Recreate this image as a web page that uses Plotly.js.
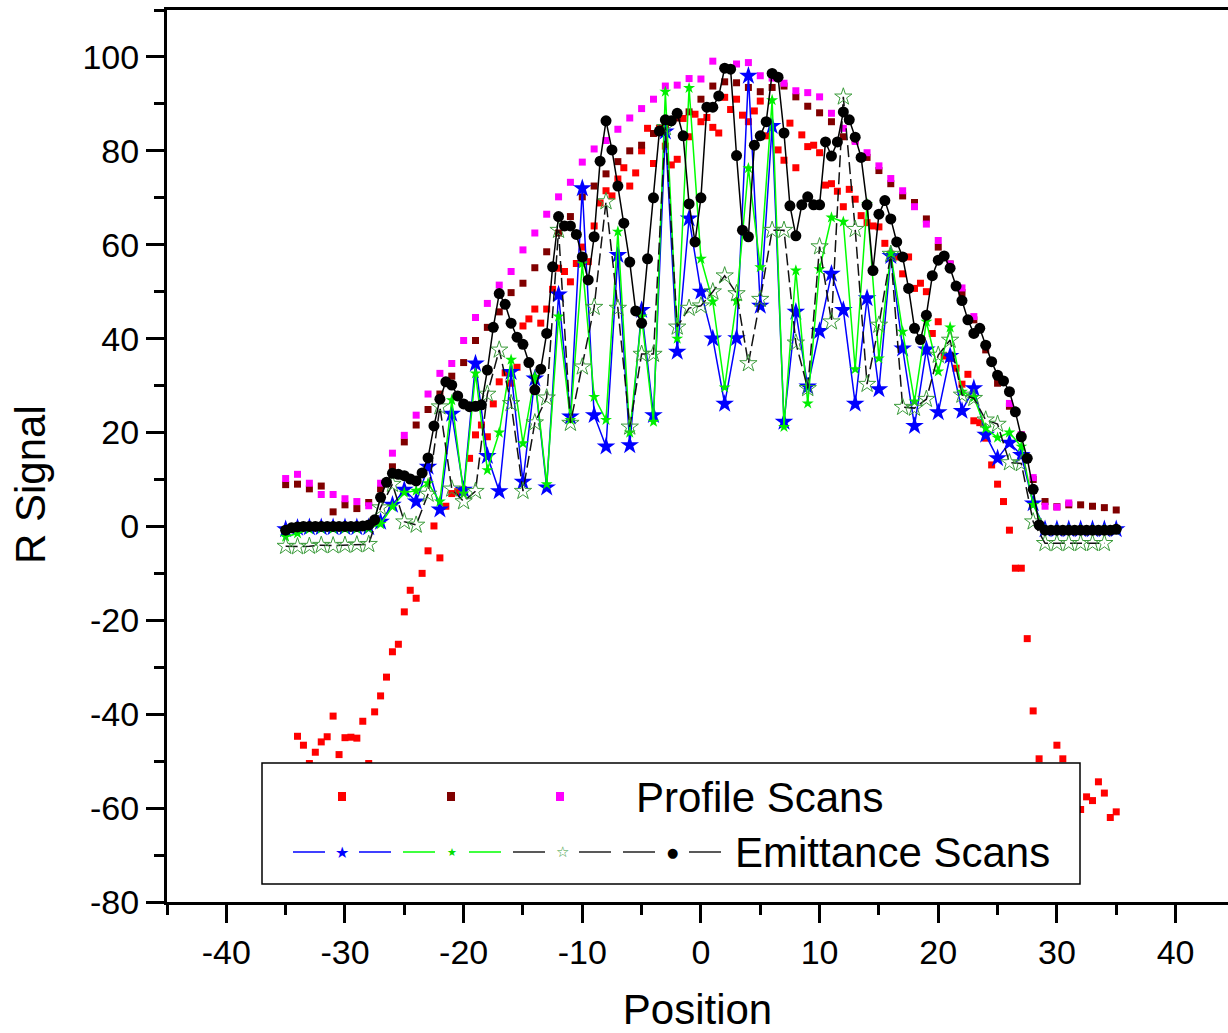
<!DOCTYPE html>
<html>
<head>
<meta charset="utf-8">
<script src="https://cdn.plot.ly/plotly-3.0.1.min.js"></script>
<style>html,body{margin:0;padding:0;background:#fff;}#chart{width:1228px;height:1033px;}</style>
</head>
<body>
<div id="chart"></div>
<script>
// ---------- DATA ----------
const xInt = [-35,-34,-33,-32,-31,-30,-29,-28,-27,-26,-25,-24,-23,-22,-21,-20,-19,-18,-17,-16,-15,-14,-13,-12,-11,-10,-9,-8,-7,-6,-5,-4,-3,-2,-1,0,1,2,3,4,5,6,7,8,9,10,11,12,13,14,15,16,17,18,19,20,21,22,23,24,25,26,27,28,29,30,31,32,33,34,35];

const xHalf = [-35,-34.5,-34,-33.5,-33,-32.5,-32,-31.5,-31,-30.5,-30,-29.5,-29,-28.5,-28,-27.5,-27,-26.5,-26,-25.5,-25,-24.5,-24,-23.5,-23,-22.5,-22,-21.5,-21,-20.5,-20,-19.5,-19,-18.5,-18,-17.5,-17,-16.5,-16,-15.5,-15,-14.5,-14,-13.5,-13,-12.5,-12,-11.5,-11,-10.5,-10,-9.5,-9,-8.5,-8,-7.5,-7,-6.5,-6,-5.5,-5,-4.5,-4,-3.5,-3,-2.5,-2,-1.5,-1,-0.5,0,0.5,1,1.5,2,2.5,3,3.5,4,4.5,5,5.5,6,6.5,7,7.5,8,8.5,9,9.5,10,10.5,11,11.5,12,12.5,13,13.5,14,14.5,15,15.5,16,16.5,17,17.5,18,18.5,19,19.5,20,20.5,21,21.5,22,22.5,23,23.5,24,24.5,25,25.5,26,26.5,27,27.5,28,28.5,29,29.5,30,30.5,31,31.5,32,32.5,33,33.5,34,34.5,35];

// Profile scan 1 (red squares)
const redX = [-34,-33.5,-33,-32.5,-32,-31.5,-31,-30.5,-30,-29.5,-29,-28.5,-28,-27.5,-27,-26.5,-26,-25.5,-25,-24.5,-24,-23.5,-23,-22.5,-22,-21.5,-21,-20.5,-20,-19.5,-19,-18.5,-18,-17.5,-17,-16.5,-16,-15.5,-15,-14.5,-14,-13.5,-13,-12.5,-12,-11.5,-11,-10.5,-10,-9.5,-9,-8.5,-8,-7.5,-7,-6.5,-6,-5.5,-5,-4.5,-4,-3.5,-3,-2.5,-2,-1.5,-1,-0.5,0,0.5,1,1.5,2,2.5,3,3.5,4,4.5,5,5.5,6,6.5,7,7.5,8,8.5,9,9.5,10,10.5,11,11.5,12,12.5,13,13.5,14,14.5,15,15.5,16,16.5,17,17.5,18,18.5,19,19.5,20,20.5,21,21.5,22,22.5,23,23.5,24,24.5,25,25.5,26,26.5,27,27.5,28,28.5,30,30.5,32,32.5,33,33.5,34,34.5,35];
const redY = [-44.7,-46.6,-50.5,-48.1,-45.9,-44.8,-40.4,-48.6,-45.0,-44.9,-45.1,-41.5,-50.5,-39.5,-36.1,-32.1,-26.7,-25.1,-18.2,-13.6,-15.3,-10.0,-5.2,0.1,-6.7,4.3,7.0,7.4,7.8,14.5,19.5,21.6,19.1,26.1,30.8,32.7,30.5,33.9,42.7,44.2,46.3,43.3,46.3,50.5,55.0,54.3,52.1,56.0,59.5,56.4,64.0,68.9,71.5,70.4,74.0,76.4,72.5,75.3,80.0,84.8,77.3,84.8,81.0,77.0,78.2,86.9,83.0,87.8,86.2,87.1,85.0,83.8,91.4,88.8,91.0,87.6,86.2,88.5,90.6,83.2,85.0,80.2,78.0,85.9,76.4,83.4,80.9,81.2,79.6,72.7,73.0,71.4,68.1,71.8,69.7,66.2,64.7,64.0,63.8,60.3,58.0,57.4,53.8,57.4,50.7,51.8,50.0,41.1,43.6,36.3,35.8,33.7,30.3,32.4,22.5,22.1,18.8,13.1,9.0,5.3,-0.8,-8.9,-8.9,-23.9,-39.3,-49.5,-46.6,-49.5,-60.3,-57.6,-58.4,-54.4,-56.8,-62.0,-60.8];

// Profile scan 2 (dark red squares)
const maroonY = [8.9,9.0,8.0,8.6,3.1,4.6,3.8,5.1,8.0,12.7,18.0,21.6,24.9,28.2,32.0,34.9,39.6,42.4,45.7,49.8,51.8,55.1,58.5,62.5,66.0,70.2,72.5,75.1,77.7,80.0,81.2,83.7,85.5,87.0,88.3,91.0,93.8,94.7,94.5,93.5,92.6,93.5,93.8,91.5,89.5,88.1,86.2,83.0,82.3,78.6,75.8,73.0,70.4,69.0,65.5,59.5,55.9,49.8,44.0,37.6,30.5,25.6,19.5,10.0,5.3,4.2,4.6,4.6,4.3,4.0,3.5];

// Profile scan 3 (magenta squares)
const magentaX = [-35,-34,-33,-32,-31,-30,-29,-28,-27,-26,-25,-24,-23,-22,-21,-20,-19,-18,-17,-16,-15,-14,-13,-12,-11,-10,-9,-8,-7,-6,-5,-4,-3,-2,-1,0,1,2,3,4,5,6,7,8,9,10,11,12,13,14,15,16,17,18,19,20,21,22,23,24,25,26,27,28,29,30,31];
const magentaY = [10.2,11.1,9.2,6.8,6.8,5.9,5.3,4.4,9.2,15.6,19.4,23.7,28.2,32.6,34.7,39.6,44.5,47.5,51.4,54.3,58.9,62.5,66.5,70.2,73.3,77.6,80.4,82.2,84.6,87.0,89.0,91.0,93.8,94.0,95.4,95.3,99.1,97.5,98.5,98.8,96.0,95.5,94.4,92.8,92.4,91.5,88.0,84.8,82.0,79.6,76.8,74.1,71.5,68.1,64.4,60.9,55.9,50.8,44.7,38.5,32.0,26.2,19.5,10.4,4.3,4.1,5.0];

// Emittance scan 1 (blue stars)
const blueY = [-0.6,-0.3,-0.2,-0.2,-0.2,-0.2,-0.2,-0.2,1.0,4.6,7.8,5.3,12.7,3.6,24.0,7.8,34.7,15.0,7.5,32.9,9.5,31.5,8.3,49.4,23.4,72.0,23.7,17.0,57.8,17.3,46.1,23.7,84.1,37.2,65.6,50.0,40.0,26.1,40.1,96.0,47.0,85.3,22.3,45.7,29.8,41.6,53.8,46.1,26.1,48.6,29.2,57.6,37.9,21.4,37.7,24.3,36.3,24.6,29.4,19.5,14.5,17.8,15.2,4.9,-0.6,-0.6,-0.6,-0.6,-0.6,-0.6,-0.6];

// Emittance scan 2 (green stars)
const greenY = [-2.2,-1.5,-0.6,-0.5,-0.5,-0.5,-0.5,-0.4,0.5,4.2,7.2,7.6,9.2,5.3,26.9,7.0,32.6,12.0,20.0,35.5,17.7,31.9,9.0,44.7,22.7,56.0,27.6,22.7,62.8,20.0,44.7,22.3,92.6,40.0,93.4,57.0,47.9,29.6,48.0,76.3,55.2,90.8,21.2,54.5,26.2,54.8,65.8,64.9,33.5,68.7,35.8,58.2,41.5,26.6,43.6,33.0,42.4,28.7,27.5,20.9,18.9,20.0,17.0,4.6,-0.7,-0.7,-0.7,-0.7,-0.7,-0.7,-0.7];

// Emittance scan 3 (open stars, dashed)
const openX = [-35,-34,-33,-32,-31,-30,-29,-28,-27,-26,-25,-24,-23,-22,-21,-20,-19,-18,-17,-16,-15,-14,-13,-12,-11,-10,-9,-8,-7,-6,-5,-4,-3,-2,-1,0,1,2,3,4,5,6,7,8,9,10,11,12,13,14,15,16,17,18,19,20,21,22,23,24,25,26,27,28,29,30,31,32,33,34];
const openY = [-4.2,-4.3,-4.2,-4.0,-4.1,-4.0,-3.9,-3.8,4.0,9.0,1.0,0.3,6.9,25.5,8.0,5.3,7.5,28.2,37.6,26.2,7.5,22.1,27.4,63.1,22.0,34.0,46.7,69.2,46.5,21.2,36.7,36.7,85.0,42.5,46.5,47.0,50.0,53.4,49.6,34.7,48.4,63.1,63.1,39.1,29.4,59.6,43.6,91.5,63.3,30.3,42.9,58.0,25.4,25.2,27.1,36.5,39.7,28.0,27.3,22.7,21.8,13.6,13.4,1.0,-3.6,-3.6,-3.6,-3.6,-3.6,-3.6];

// Emittance scan 4 (black circles)
const blackY = [-0.8,-0.3,-0.1,0,0,0,0,0,0,0,0,0,0,0.1,0.3,1.4,6.2,9.4,11.3,11.1,10.8,10.1,9.7,11.4,14.6,21.4,27.1,30.8,30.1,27.8,26.1,25.5,25.6,25.9,33.3,42.4,49.6,47.3,43.3,40.3,38.8,34.9,29.1,33.5,41.1,55.3,66.0,64.0,64.0,62.2,57.4,52.5,61.7,77.8,86.4,80.2,72.5,64.6,56.3,45.9,43.3,57.0,70.0,84.2,86.6,86.4,88.0,83.2,68.7,60.6,70.0,89.3,89.3,91.7,97.6,97.4,79.0,63.1,61.7,81.2,83.2,86.2,96.5,95.7,83.8,68.3,61.9,68.5,70.2,68.5,68.5,81.9,78.9,81.9,88.3,86.6,82.9,78.6,68.5,54.5,66.5,69.4,65.5,60.6,57.4,50.7,42.2,39.8,45.0,53.4,56.7,57.6,55.0,51.2,48.1,44.0,41.1,42.2,38.6,35.1,32.2,31.0,28.7,24.4,19.1,14.5,7.9,0.3,-0.8,-0.8,-0.8,-0.8,-0.8,-0.8,-0.8,-0.8,-0.8,-0.8,-0.8,-0.8,-0.6];

const xTickVals = [-40,-30,-20,-10,0,10,20,30,40];
const xTickText = ['-40','-30','-20','-10','0','10','20','30','40'];
const yTickVals = [-80,-60,-40,-20,0,20,40,60,80,100];
const yTickText = ['-80','-60','-40','-20','0','20','40','60','80','100'];

const legendProfile = "Profile Scans";
const legendEmittance = "Emittance Scans";
const xTitle = "Position";
const yTitle = "R Signal";

// ---------- TRACES ----------
const traces = [
  {x: redX, y: redY, mode: 'markers', type: 'scatter', name: 'Profile 1',
   marker: {symbol: 'square', size: 7, color: '#ff0000'}},
  {x: xInt, y: maroonY, mode: 'markers', type: 'scatter', name: 'Profile 2',
   marker: {symbol: 'square', size: 7, color: '#800000'}},
  {x: magentaX, y: magentaY, mode: 'markers', type: 'scatter', name: 'Profile 3',
   marker: {symbol: 'square', size: 7, color: '#ff00ff'}},
  {x: xInt, y: blueY, mode: 'lines+markers', type: 'scatter', name: 'Emittance 1',
   line: {color: '#0000ff', width: 1.5},
   marker: {symbol: 'star', size: 14, color: '#0000ff'}},
  {x: xInt, y: greenY, mode: 'lines+markers', type: 'scatter', name: 'Emittance 2',
   line: {color: '#00ff00', width: 1.5},
   marker: {symbol: 'star', size: 9, color: '#00ee00'}},
  {x: openX, y: openY, mode: 'lines+markers', type: 'scatter', name: 'Emittance 3',
   line: {color: '#111111', width: 1.5, dash: '12px,5px'},
   marker: {symbol: 'star-open', size: 13, color: '#3c9c3c', line: {width: 1}}},
  {x: xHalf, y: blackY, mode: 'lines+markers', type: 'scatter', name: 'Emittance 4',
   line: {color: '#000000', width: 1.5},
   marker: {symbol: 'circle', size: 11, color: '#000000'}}
];

// ---------- LEGEND (drawn box in paper coords) ----------
const L = 167, W = 1061, B = 902, H = 892;
const px = v => (v - L) / W;
const py = v => (B - v) / H;

const shapes = [
  {type: 'rect', xref: 'paper', yref: 'paper', x0: px(262), x1: px(1080), y0: py(884), y1: py(763),
   line: {color: '#000', width: 1.5}, fillcolor: '#ffffff', layer: 'above'}
];
const sq = [[342, '#ff0000'], [451, '#800000'], [560, '#ff00ff']];
sq.forEach(([c, col]) => shapes.push({type: 'rect', xref: 'paper', yref: 'paper',
  x0: px(c - 4), x1: px(c + 4), y0: py(801), y1: py(792), fillcolor: col, line: {width: 0}, layer: 'above'}));
const entries = [[342, '#0000ff'], [452, '#00ff00'], [562, '#222222'], [672, '#222222']];
entries.forEach(([c, col]) => {
  shapes.push({type: 'line', xref: 'paper', yref: 'paper', x0: px(c - 49), x1: px(c - 17), y0: py(852), y1: py(852),
    line: {color: col, width: 1.5}, layer: 'above'});
  shapes.push({type: 'line', xref: 'paper', yref: 'paper', x0: px(c + 17), x1: px(c + 49), y0: py(852), y1: py(852),
    line: {color: col, width: 1.5}, layer: 'above'});
});

const textFont = 'Liberation Sans, Arial, sans-serif';
const annotations = [
  {xref: 'paper', yref: 'paper', x: px(634), y: py(797), xanchor: 'left', yanchor: 'middle', showarrow: false,
   text: legendProfile, font: {family: textFont, size: 42, color: '#000'}},
  {xref: 'paper', yref: 'paper', x: px(733), y: py(852), xanchor: 'left', yanchor: 'middle', showarrow: false,
   text: legendEmittance, font: {family: textFont, size: 42, color: '#000'}},
  {xref: 'paper', yref: 'paper', x: px(342), y: py(852), xanchor: 'center', yanchor: 'middle', showarrow: false,
   text: '★', font: {family: 'DejaVu Sans', size: 16, color: '#0000ff'}},
  {xref: 'paper', yref: 'paper', x: px(452), y: py(852), xanchor: 'center', yanchor: 'middle', showarrow: false,
   text: '★', font: {family: 'DejaVu Sans', size: 11, color: '#00dd00'}},
  {xref: 'paper', yref: 'paper', x: px(562), y: py(852), xanchor: 'center', yanchor: 'middle', showarrow: false,
   text: '☆', font: {family: 'DejaVu Sans', size: 15, color: '#3c9c3c'}},
  {xref: 'paper', yref: 'paper', x: px(672), y: py(852), xanchor: 'center', yanchor: 'middle', showarrow: false,
   text: '●', font: {family: 'DejaVu Sans', size: 13, color: '#000'}},
  // y-axis title
  {xref: 'paper', yref: 'paper', x: px(31), y: py(485), xanchor: 'center', yanchor: 'middle', showarrow: false,
   textangle: -90, text: yTitle, font: {family: textFont, size: 42, color: '#000'}}
];

const axisFont = {family: textFont, size: 34, color: '#000'};

const layout = {
  width: 1228, height: 1033,
  margin: {l: L, r: 0, t: 10, b: 131},
  paper_bgcolor: '#fff', plot_bgcolor: '#fff',
  showlegend: false,
  xaxis: {
    range: [-45, 44.42], tickmode: 'array', tickvals: xTickVals, ticktext: xTickText,
    ticks: 'outside', ticklen: 18, tickwidth: 3, tickcolor: '#000',
    minor: {ticks: 'outside', ticklen: 10, tickwidth: 3, dtick: 5, tick0: 0, tickcolor: '#000'},
    showline: true, linewidth: 3, linecolor: '#000', mirror: true,
    showgrid: false, zeroline: false, tickfont: axisFont,
    title: {text: xTitle, font: {family: textFont, size: 42, color: '#000'}, standoff: 28}
  },
  yaxis: {
    range: [-80, 110], tickmode: 'array', tickvals: yTickVals, ticktext: yTickText,
    ticks: 'outside', ticklen: 18, tickwidth: 3, tickcolor: '#000',
    minor: {ticks: 'outside', ticklen: 10, tickwidth: 3, dtick: 10, tick0: 0, tickcolor: '#000'},
    showline: true, linewidth: 3, linecolor: '#000', mirror: false,
    showgrid: false, zeroline: false, tickfont: axisFont
  },
  shapes: shapes,
  annotations: annotations
};

Plotly.newPlot('chart', traces, layout, {displayModeBar: false, staticPlot: true});
</script>
</body>
</html>
